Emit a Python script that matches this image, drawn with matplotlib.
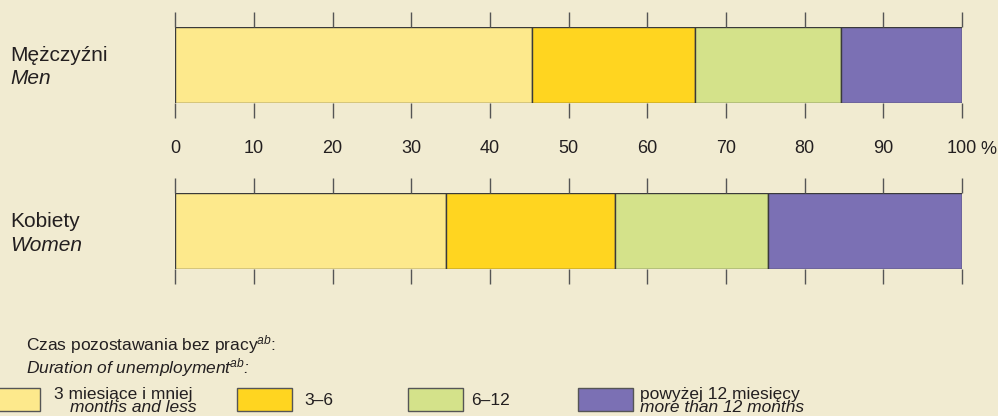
import matplotlib
matplotlib.use('Agg')
import matplotlib.pyplot as plt
from matplotlib.patches import Rectangle

# Dane
groups = ['Mężczyźni', 'Kobiety']
groups_en = ['Men', 'Women']
cat_pl = ['3 miesiące i mniej', '3–6', '6–12', 'powyżej 12 miesięcy']
cat_en = ['months and less', '', '', 'more than 12 months']
men = [45.4, 20.7, 18.5, 15.4]
women = [34.4, 21.5, 19.4, 24.7]
ticks = [0, 10, 20, 30, 40, 50, 60, 70, 80, 90, 100]

colors = ['#FDE98C', '#FFD520', '#D4E28A', '#7B70B4']
bg = '#F1EBD1'
txt = '#231F20'

plt.rcParams['font.family'] = ['Liberation Sans', 'DejaVu Sans']
plt.rcParams['mathtext.fontset'] = 'custom'
plt.rcParams['mathtext.rm'] = 'Liberation Sans'
plt.rcParams['mathtext.it'] = 'Liberation Sans:italic'

W, H = 998, 416
fig = plt.figure(figsize=(W / 100, H / 100), dpi=100, facecolor=bg)


def fx(x):
    return x / W


def fy(y):
    return 1 - y / H


x0, x1 = 175.3, 962.0
rows = [(men, 26.7, 102.5), (women, 193.3, 268.7)]
for i, (vals, top, bot) in enumerate(rows):
    ax = fig.add_axes([fx(x0), fy(bot), fx(x1) - fx(x0), (bot - top) / H])
    ax.patch.set_visible(False)
    left = 0
    for v, c in zip(vals, colors):
        ax.barh(0, v, left=left, height=1, color=c, edgecolor='#3a3a3a', linewidth=1.0)
        left += v
    ax.set_xlim(0, 100)
    ax.set_ylim(-0.5, 0.5)
    ax.set_yticks([])
    for s in ax.spines.values():
        s.set_visible(False)
    ax.set_xticks(ticks)
    ax.tick_params(axis='x', top=True, bottom=True, direction='out', length=10.8,
                   width=1.0, color='#555555', labelcolor=txt, labelsize=13, pad=16.5)
    if i == 0:
        ax.set_xticklabels([str(t) for t in ticks])
        ax.annotate('%', xy=(100, 0), xycoords=('data', 'axes fraction'),
                    xytext=(18, -51.5), textcoords='offset pixels',
                    ha='left', va='baseline', fontsize=13, color=txt)
    else:
        ax.set_xticklabels([])

# Etykiety grup
for base, pl, en in zip([60.7, 227.2], groups, groups_en):
    fig.text(fx(10), fy(base), pl, fontsize=15, color=txt, va='baseline')
    fig.text(fx(10), fy(base + 23.4), en, fontsize=15, color=txt, va='baseline', style='italic')

# Legenda
fig.text(fx(26), fy(350), 'Czas pozostawania bez pracy$^{ab}$:', fontsize=12.5,
         color=txt, va='baseline')
fig.text(fx(26), fy(373), 'Duration of unemployment$^{ab}$:', fontsize=12.5,
         color=txt, va='baseline', style='italic')

patch_x = [-15, 237, 408, 578]
text_x = [54, 304, 471, 640]
for px, tx, c, pl, en in zip(patch_x, text_x, colors, cat_pl, cat_en):
    fig.patches.append(Rectangle((fx(px), fy(411)), 55 / W, 23 / H, transform=fig.transFigure,
                                 facecolor=c, edgecolor='#555555', linewidth=1.0))
    if en:
        fig.text(fx(tx), fy(398.5), pl, fontsize=12.5, color=txt, va='baseline')
        ex = tx + 16 if tx == 54 else tx
        fig.text(fx(ex), fy(412), en, fontsize=12.5, color=txt, va='baseline', style='italic')
    else:
        fig.text(fx(tx), fy(405), pl, fontsize=12.5, color=txt, va='baseline')

fig.savefig('out.png', dpi=100, facecolor=bg)
